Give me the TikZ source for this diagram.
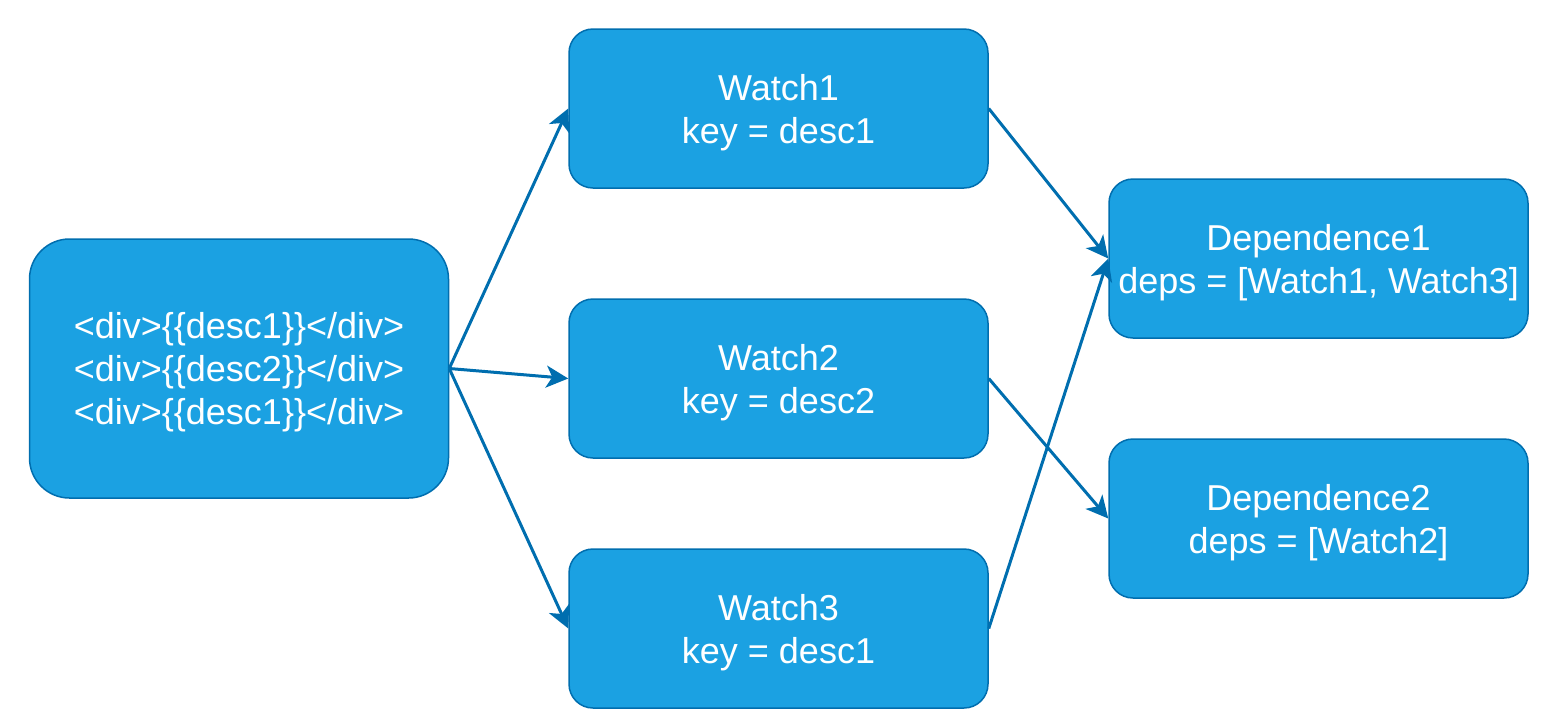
\documentclass[tikz,border=0pt]{standalone}
\usepackage{fontspec}
\setmainfont{Liberation Sans}
\usetikzlibrary{arrows.meta}
\definecolor{boxfill}{HTML}{1BA1E2}
\definecolor{boxline}{HTML}{006EAF}

\begin{document}
\begin{tikzpicture}[x=1pt,y=-1pt,line join=round,>={Stealth[length=22pt,width=22pt,inset=6pt]},
    box/.style={draw=boxline,fill=boxfill,line width=1.5pt,rounded corners=24pt,
      minimum width=419pt,minimum height=159pt,text=white,align=center,text depth=-6pt,
      font=\fontsize{36}{43}\selectfont},
    link/.style={draw=boxline,line width=3pt,->}]
	\useasboundingbox (0,0) rectangle (1544,724);
			% Source
			\node[box,rounded corners=40pt,minimum height=259pt] (tpl) at (239,368.5)
				{<div>\{\{desc1\}\}</div>\\<div>\{\{desc2\}\}</div>\\<div>\{\{desc1\}\}</div>};
			% Watchers
			\node[box] (w1) at (778.5,108.5) {Watch1\\key = desc1};
			\node[box] (w2) at (778.5,378.5) {Watch2\\key = desc2};
			\node[box] (w3) at (778.5,628.5) {Watch3\\key = desc1};
			% Dependences
			\node[box] (d1) at (1318.5,258.5) {Dependence1\\deps = [Watch1, Watch3]};
			\node[box] (d2) at (1318.5,518.5) {Dependence2\\deps = [Watch2]};
			% Pfeile
			\draw[link] (tpl.east)--(w1.west);
			\draw[link] (tpl.east)--(w2.west);
			\draw[link] (tpl.east)--(w3.west);
			\draw[link] (w1.east)--(d1.west);
			\draw[link] (w3.east)--(d1.west);
			\draw[link] (w2.east)--(d2.west);
	\end{tikzpicture}
\end{document}
